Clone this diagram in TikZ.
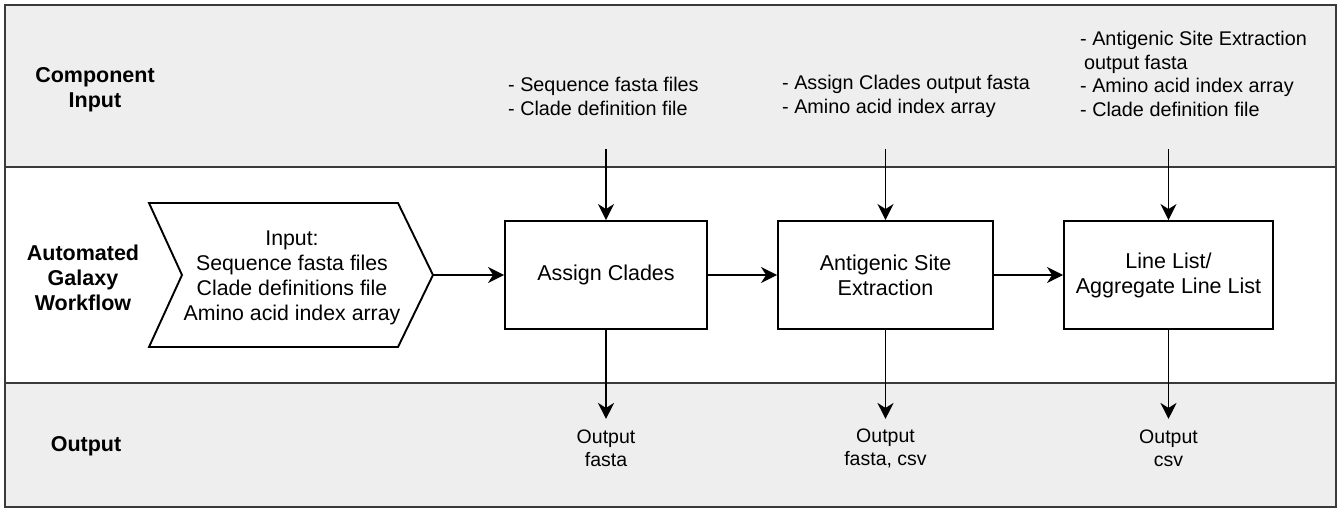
\documentclass[tikz,border=0pt]{standalone}
\usepackage{fontspec}
\setmainfont{Liberation Sans}
\usetikzlibrary{arrows.meta}
\definecolor{band}{HTML}{EEEEEE}
\definecolor{frame}{HTML}{3A3A3A}

\begin{document}
\begin{tikzpicture}[x=1pt,y=-1pt,
  lane/.style={draw=frame, line width=2pt, fill=band},
  lanelabel/.style={font=\bfseries\fontsize{21.5}{25}\selectfont, align=center, inner sep=0pt},
  stepbox/.style={draw, line width=1.9pt, minimum height=108pt, inner sep=0pt,
                  font=\fontsize{21.5}{25}\selectfont, align=center},
  chevtext/.style={font=\fontsize{21.3}{25}\selectfont, align=center, inner sep=0pt},
  inlist/.style={font=\fontsize{19.8}{23.5}\selectfont, align=left, anchor=west, inner sep=0pt},
  outlabel/.style={font=\fontsize{19.5}{23}\selectfont, align=center, inner sep=0pt},
  flow/.style={line width=1.9pt, -{Stealth[length=16pt,width=16pt,inset=5pt]}},
]
\useasboundingbox (0,0) rectangle (1339,509);

% swimlanes
\draw[lane] (5,5) rectangle (1336,167);
\draw[lane, fill=white] (5,167) rectangle (1336,383);
\draw[lane] (5,383) rectangle (1336,507);

% lane titles
\node[lanelabel] (lblIn)  at (95,90)  {Component\\Input};
\node[lanelabel] (lblWf)  at (83,278) {Automated\\Galaxy\\Workflow};
\node[lanelabel] (lblOut) at (86,446) {Output};

% workflow input chevron
\draw[line width=1.9pt, line join=miter]
  (149,203) -- (398,203) -- (433,275) -- (398,347) -- (149,347) -- (182,275) -- cycle;
\coordinate (chevTip) at (433,275);
\node[chevtext] (chev) at (292,278)
  {Input:\\Sequence fasta files\\Clade definitions file\\Amino acid index array};

% processing steps
\node[stepbox, minimum width=202pt] (assign)   at (606,275)    {Assign Clades};
\node[stepbox, minimum width=215pt] (antigen)  at (885.5,275)  {Antigenic Site\\Extraction};
\node[stepbox, minimum width=209pt] (linelist) at (1168.5,275) {Line List/\\Aggregate Line List};

\draw[flow] (chevTip) -- (assign.west);
\draw[flow] (assign) -- (antigen);
\draw[flow] (antigen) -- (linelist);

% component inputs
\node[inlist] (inA) at (508,96.5) {- Sequence fasta files\\- Clade definition file};
\node[inlist] (inB) at (782,96.5) {- Assign Clades output fasta\\- Amino acid index array};
\node[inlist] (inC) at (1080,74)
  {- Antigenic Site Extraction\\\hspace{4pt}output fasta\\- Amino acid index array\\- Clade definition file};

\coordinate (srcA) at ([yshift=71pt]assign.north);
\coordinate (srcB) at ([yshift=71pt]antigen.north);
\coordinate (srcC) at ([yshift=71pt]linelist.north);
\draw[flow] (srcA) -- (assign.north);
\draw[flow] (srcB) -- (antigen.north);
\draw[flow] (srcC) -- (linelist.north);

% outputs
\coordinate (dstA) at ([yshift=-89pt]assign.south);
\coordinate (dstB) at ([yshift=-89pt]antigen.south);
\coordinate (dstC) at ([yshift=-89pt]linelist.south);
\draw[flow] (assign.south) -- (dstA);
\draw[flow] (antigen.south) -- (dstB);
\draw[flow] (linelist.south) -- (dstC);

\node[outlabel] (outA) at (606,448)    {Output\\fasta};
\node[outlabel] (outB) at (885.5,448)  {Output\\fasta, csv};
\node[outlabel] (outC) at (1168.5,448) {Output\\csv};
\end{tikzpicture}
\end{document}
